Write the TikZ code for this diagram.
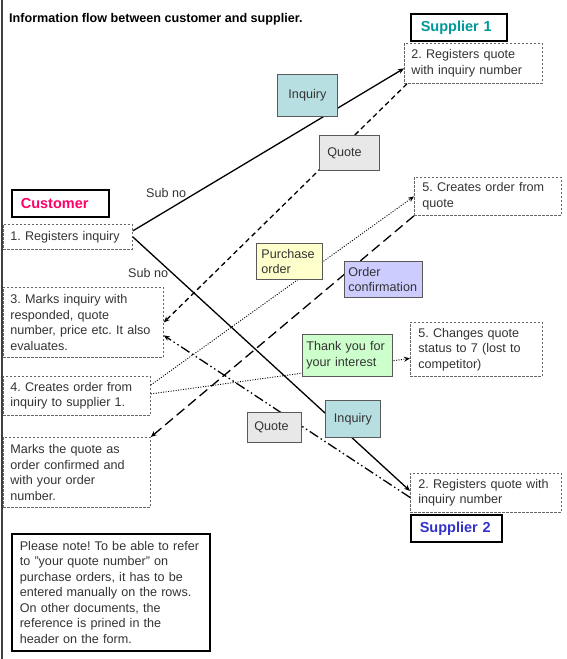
\documentclass[tikz,border=0pt]{standalone}
\usepackage{fontspec}
\setmainfont{Liberation Sans}
\usetikzlibrary{arrows.meta}
\frenchspacing

\definecolor{inqfill}{RGB}{183,222,224}
\definecolor{quofill}{RGB}{232,232,232}
\definecolor{pofill}{RGB}{255,255,204}
\definecolor{ocfill}{RGB}{204,204,255}
\definecolor{tyfill}{RGB}{204,255,204}
\definecolor{supone}{RGB}{0,153,153}
\definecolor{suptwo}{RGB}{51,51,204}
\definecolor{custcol}{RGB}{255,0,102}

\tikzset{
    stepbox/.style={draw=black!60, line width=0.8pt, dash pattern=on 2.5pt off 1.5pt, anchor=north west, align=left, inner xsep=7pt, inner ysep=2pt, text=black!80},
    partybox/.style={draw=black, line width=1.6pt, anchor=north west, align=left, inner xsep=9pt, inner ysep=2pt, font=\fontsize{14.5}{17}\selectfont\bfseries},
    docbox/.style={draw=black!65, line width=0.8pt, anchor=north west, align=left, inner xsep=6pt, inner ysep=2pt, text=black!80},
    flow/.style={line width=1.3pt, -{Stealth[length=6pt,width=5pt]}},
    flowdot/.style={line width=0.9pt, dash pattern=on 1pt off 1.5pt, -{Stealth[length=6pt,width=5pt]}},
}

\begin{document}
\begin{tikzpicture}[x=1pt, y=-1pt, font=\fontsize{12.6}{15.5}\selectfont]
    \useasboundingbox (0,0) rectangle (567,659);
    \draw[line width=2pt, black!75] (2,0) -- (2,659); % left edge

    \node[anchor=west, inner sep=0pt, font=\fontsize{12.6}{15}\selectfont\bfseries] (title) at (9,19) {Information flow between customer and supplier.};

    % parties
    \node[partybox, text=supone, inner xsep=10pt, text width=76pt, minimum height=27pt] (sup1) at (410,13) {Supplier 1};
    \node[partybox, text=custcol, text width=79pt, minimum height=27pt] (cust) at (11,189) {Customer};
    \node[partybox, text=suptwo, text width=73pt, minimum height=27pt] (sup2) at (410,514) {Supplier 2};

    % steps
    \node[stepbox, text width=124pt, minimum height=40pt] (s1reg) at (404,43) {2. Registers quote\\with inquiry number};
    \node[stepbox, inner xsep=8pt, text width=131pt, minimum height=38pt] (s1ord) at (414,177) {5. Creates order from\\quote};
    \node[stepbox, text width=115pt, minimum height=25pt] (reg) at (3,224) {1. Registers inquiry};
    \node[stepbox, text width=146pt, minimum height=70pt] (marks) at (3,287) {3. Marks inquiry with\\responded, quote\\number, price etc. It also\\evaluates.};
    \node[stepbox, inner xsep=8pt, text width=116pt, minimum height=54pt] (lost) at (410,322) {5. Changes quote\\status to 7 (lost to\\competitor)};
    \node[stepbox, text width=133pt, minimum height=39pt] (order) at (3,376) {4. Creates order from\\inquiry to supplier 1.};
    \node[stepbox, text width=133pt, minimum height=70pt] (conf) at (3,437) {Marks the quote as\\order confirmed and\\with your order\\number.};
    \node[stepbox, inner xsep=8pt, text width=135pt, minimum height=39pt] (s2reg) at (410,473) {2. Registers quote with\\inquiry number};

    % flows
    \draw[flow] ([yshift=6pt]reg.east) -- ([yshift=-5pt]s1reg.west);
    \draw[flow] (reg.east) -- ([yshift=2pt]s2reg.west);
    \draw[flow, dash pattern=on 5pt off 3.5pt] ([xshift=3pt]s1reg.south west) -- (marks.east);
    \draw[flowdot] ([yshift=-9pt]order.north east) -- (s1ord.west);
    \draw[flow, dash pattern=on 10pt off 5pt] (s1ord.south west) -- (conf.north east);
    \draw[flowdot] ([yshift=2pt]order.east) -- ([yshift=-9pt]lost.west);
    \draw[flow, dash pattern=on 10pt off 3pt on 1.5pt off 3pt on 1.5pt off 3pt] ([yshift=-4.5pt]s2reg.west) -- ([yshift=-13pt]marks.east);

    \node[anchor=west, inner sep=0pt, text=black!80] (sub1) at (146,193) {Sub no};
    \node[anchor=west, inner sep=0pt, text=black!80] (sub2) at (128,273) {Sub no};

    % documents on the flows
    \node[docbox, fill=inqfill, align=center, text width=48pt, minimum height=42pt] (inq1) at (277,74) {Inquiry};
    \node[docbox, fill=quofill, inner xsep=8pt, text width=44pt, minimum height=35pt] (quo1) at (319,135) {Quote};
    \node[docbox, fill=pofill, inner xsep=5pt, text width=56pt, minimum height=36pt] (po) at (256,243) {Purchase\\order};
    \node[docbox, fill=ocfill, inner xsep=4pt, text width=70pt, minimum height=36pt] (oc) at (344,261) {Order\\confirmation};
    \node[docbox, fill=tyfill, inner xsep=4pt, text width=82pt, minimum height=42pt] (thanks) at (302,334) {Thank you for\\your interest};
    \node[docbox, fill=quofill, inner xsep=7pt, text width=40pt, minimum height=30pt] (quo2) at (247,412) {Quote};
    \node[docbox, fill=inqfill, align=center, text width=43pt, minimum height=37pt] (inq2) at (325,400) {Inquiry};

    \node[partybox, font=\fontsize{12.6}{15.5}\selectfont, text=black!80, inner xsep=8pt, text width=182pt, minimum height=117pt] (note) at (11,533) {Please note! To be able to refer\\to "your quote number" on\\purchase orders, it has to be\\entered manually on the rows.\\On other documents, the\\reference is prined in the\\header on the form.};
\end{tikzpicture}
\end{document}
